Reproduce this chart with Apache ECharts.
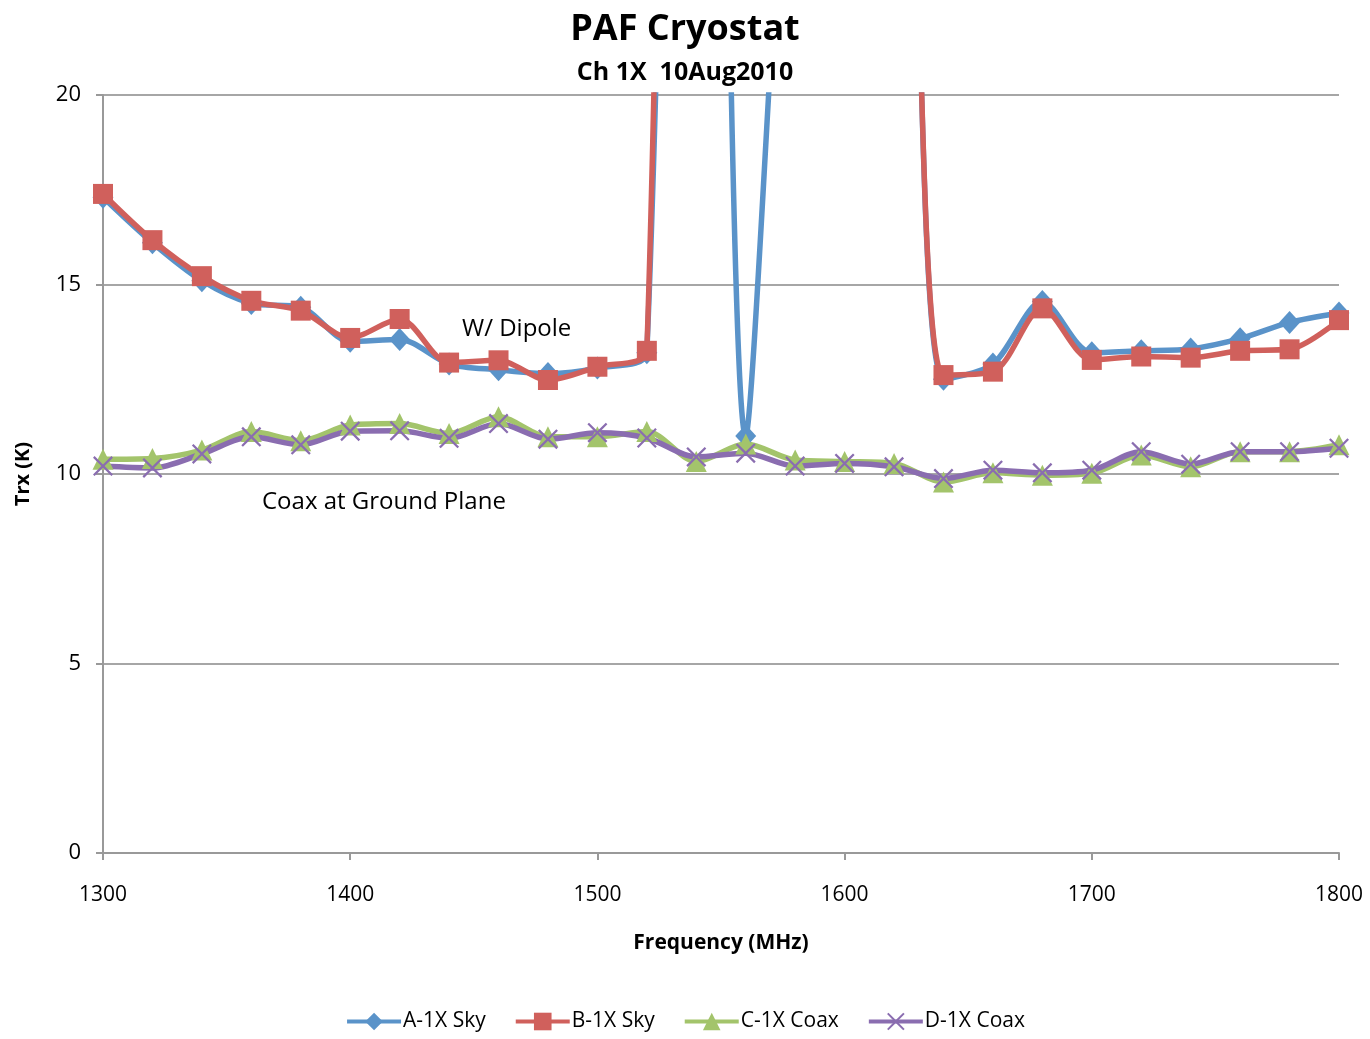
<!DOCTYPE html>
<html>
<head>
<meta charset="utf-8">
<script src="https://cdn.jsdelivr.net/npm/echarts@6/dist/echarts.min.js"></script>
<style>
html,body{margin:0;padding:0;background:#fff;}
#chart{width:1370px;height:1039px;}
</style>
</head>
<body>
<div id="chart"></div>
<script>
const freq = [1300,1320,1340,1360,1380,1400,1420,1440,1460,1480,1500,1520,1540,1560,1580,1600,1620,1640,1660,1680,1700,1720,1740,1760,1780,1800];
const seriesA = [17.3,16.1,15.1,14.5,14.4,13.5,13.55,12.9,12.75,12.65,12.8,13.2,75,11.0,31,42,40,12.5,12.9,14.55,13.2,13.25,13.3,13.57,14.0,14.25];
const seriesB = [17.39,16.17,15.22,14.57,14.31,13.59,14.09,12.94,13.0,12.48,12.83,13.25,90,75,55,42,40,12.61,12.70,14.37,13.01,13.1,13.07,13.25,13.29,14.06];
const seriesC = [10.39,10.41,10.63,11.12,10.88,11.29,11.33,11.07,11.51,10.98,10.98,11.12,10.33,10.79,10.37,10.33,10.28,9.79,10.03,9.97,10.02,10.5,10.19,10.59,10.59,10.77];
const seriesD = [10.21,10.16,10.53,10.98,10.77,11.13,11.14,10.94,11.33,10.92,11.09,10.95,10.45,10.55,10.21,10.28,10.19,9.88,10.1,10.03,10.1,10.59,10.26,10.59,10.59,10.68];
const seriesNames = ['A-1X Sky','B-1X Sky','C-1X Coax','D-1X Coax'];
const xTicks = {min:1300, max:1800, interval:100};
const yTicks = {min:0, max:20, interval:5};

const FONT = '"Open Sans", "Noto Sans", sans-serif';
const colors = ['#5A93C9','#D0605C','#A3C46B','#8A6DB0'];
const xSym = 'path://M0,0.8 L0.8,0 L5,4.2 L9.2,0 L10,0.8 L5.8,5 L10,9.2 L9.2,10 L5,5.8 L0.8,10 L0,9.2 L4.2,5 Z';
const symbols = ['diamond','rect','triangle',xSym];
const symSizes = [[21,23],20,21,20];
const dataSets = [seriesA,seriesB,seriesC,seriesD];

const chart = echarts.init(document.getElementById('chart'));
chart.setOption({
  animation:false,
  backgroundColor:'#fff',
  title:[
    {text:'PAF Cryostat', left:'center', top:7, textStyle:{fontFamily:FONT, fontWeight:'bold', fontSize:36, color:'#000'}},
    {text:'Ch 1X  10Aug2010', left:'center', top:55, textStyle:{fontFamily:FONT, fontWeight:'bold', fontSize:25, color:'#000'}}
  ],
  legend:{
    bottom:2, left:'center', itemWidth:54, itemHeight:22, itemGap:28,
    textStyle:{fontFamily:FONT, fontSize:21, color:'#000', padding:[0,0,0,-3]},
    lineStyle:{width:4},
    data:seriesNames
  },
  grid:{left:103, top:95, right:31, bottom:186, containLabel:false},
  xAxis:{
    type:'value', min:xTicks.min, max:xTicks.max, interval:xTicks.interval,
    name:'Frequency (MHz)', nameLocation:'middle', nameGap:80,
    nameTextStyle:{fontFamily:FONT, fontWeight:'bold', fontSize:21, color:'#000'},
    axisLine:{lineStyle:{color:'#999', width:2}},
    axisTick:{show:true, length:7, lineStyle:{color:'#999', width:2}},
    axisLabel:{fontFamily:FONT, fontSize:21, color:'#000', margin:32, formatter:v=>String(v)},
    splitLine:{show:false}
  },
  yAxis:{
    type:'value', min:yTicks.min, max:yTicks.max, interval:yTicks.interval,
    name:'Trx (K)', nameLocation:'middle', nameGap:70, nameRotate:90,
    nameTextStyle:{fontFamily:FONT, fontWeight:'bold', fontSize:20, color:'#000'},
    axisLine:{show:true, lineStyle:{color:'#999', width:2}},
    axisTick:{show:true, length:7, lineStyle:{color:'#999', width:2}},
    axisLabel:{fontFamily:FONT, fontSize:22, color:'#000', margin:22},
    splitLine:{show:true, lineStyle:{color:'#a6a6a6', width:2}}
  },
  graphic:[
    {type:'text', left:462, top:317, style:{text:'W/ Dipole', font:'24px "Open Sans", sans-serif', fill:'#000'}},
    {type:'text', left:262, top:490, style:{text:'Coax at Ground Plane', font:'24px "Open Sans", sans-serif', fill:'#000'}}
  ],
  series: dataSets.map((d,i)=>({
    name:seriesNames[i], type:'line', smooth:0.3, clip:true,
    symbol:symbols[i], symbolSize:symSizes[i], showAllSymbol:true,
    lineStyle:{color:colors[i], width:5.5},
    itemStyle:{color:colors[i]},
    data: freq.map((f,k)=>[f,d[k]])
  }))
});
</script>
</body>
</html>
